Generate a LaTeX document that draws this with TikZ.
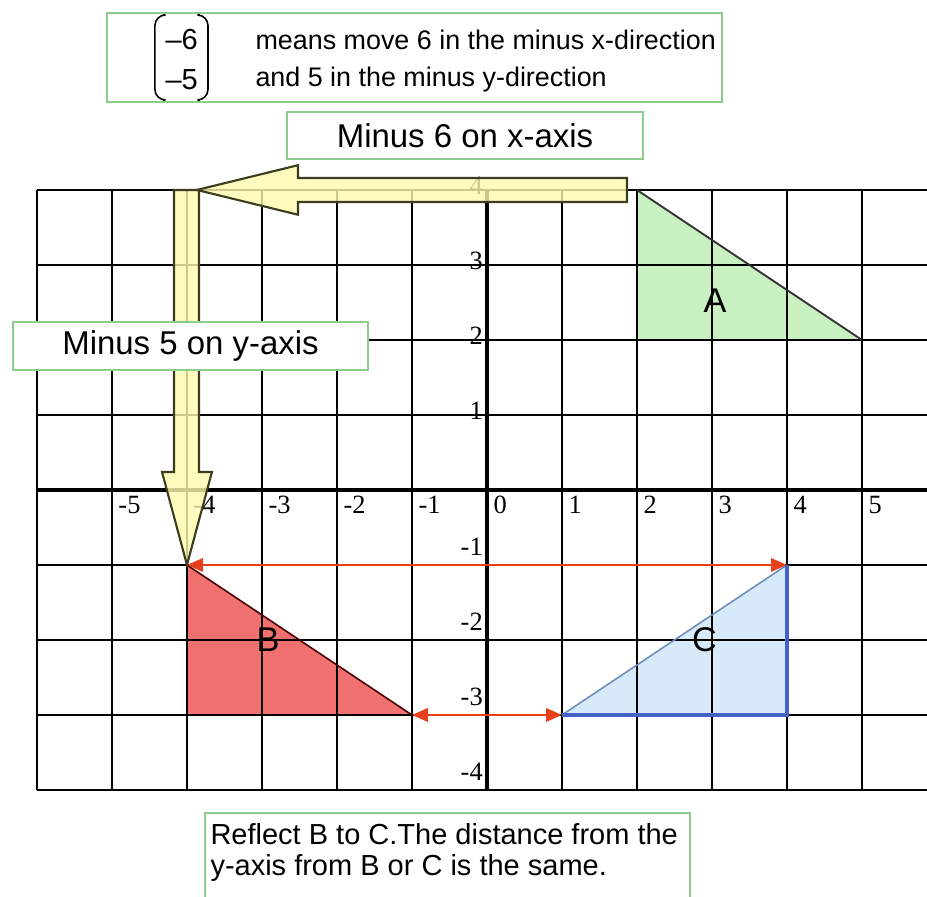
\documentclass[tikz,border=0pt]{standalone}
\usepackage{fontspec}
\setmainfont{Liberation Sans}
\newfontfamily\axfont{Liberation Serif}
\usetikzlibrary{arrows.meta}
\definecolor{boxgreen}{RGB}{140,205,140}
\definecolor{agreen}{RGB}{200,240,192}
\definecolor{bred}{RGB}{240,112,112}
\definecolor{cblue}{RGB}{214,234,250}
\definecolor{cedge}{RGB}{70,100,200}
\definecolor{chyp}{RGB}{110,140,185}
\definecolor{ayellow}{RGB}{255,250,175}
\definecolor{aedge}{RGB}{60,60,30}
\definecolor{redline}{RGB}{232,64,28}
\tikzset{
  gridline/.style={line width=0.75pt, black},
  axisline/.style={line width=1.2pt, black},
  infobox/.style={draw=boxgreen, line width=1pt, fill=white},
  boxtext/.style={inner sep=0pt, anchor=center},
  axlab/.style={inner sep=0pt, font=\axfont\fontsize{10}{12}\selectfont},
  trilab/.style={inner sep=0pt, font=\fontsize{13}{15}\selectfont},
  yarrow/.style={fill=ayellow, fill opacity=0.8, draw=aedge, line width=0.8pt, line join=miter},
  redarrow/.style={draw=redline, line width=1pt, {Triangle[length=6pt,width=5pt]}-{Triangle[length=6pt,width=5pt]}},
}
\begin{document}
\begin{tikzpicture}[x=1cm,y=1cm]
\clip (-6.493,-5.427) rectangle (5.867,6.533);
\fill[white] (-6.493,-5.427) rectangle (5.867,6.533);
% vertices
\coordinate (A1) at (2,4); \coordinate (A2) at (2,2); \coordinate (A3) at (5,2);
\coordinate (B1) at (-4,-1); \coordinate (B2) at (-4,-3); \coordinate (B3) at (-1,-3);
\coordinate (C1) at (1,-3); \coordinate (C2) at (4,-3); \coordinate (C3) at (4,-1);
% fills
\fill[agreen] (A1) -- (A2) -- (A3) -- cycle;
\fill[bred] (B1) -- (B2) -- (B3) -- cycle;
\fill[cblue] (C1) -- (C2) -- (C3) -- cycle;
% grid
\draw[gridline] (-6,-4) grid (5.95,4);
\draw[axisline] (-6,0) -- (5.95,0);
\draw[axisline] (0,-4) -- (0,4);
% triangle outlines
\draw[line width=0.7pt, black!80] (A1) -- (A3);
\draw[line width=0.6pt, black!70!red] (B1) -- (B3);
\draw[line width=0.6pt, chyp] (C1) -- (C3);
\draw[line width=1.3pt, cedge] (C1) -- (C2) -- (C3);
% triangle labels
\node[trilab] (labA) at (3.04,2.53) {A};
\node[trilab] (labB) at (-2.92,-2.0) {B};
\node[trilab] (labC) at (2.9,-2.0) {C};
% axis labels
\foreach \k in {-5,-4,-3,-2,-1,0,1,2,3,4,5}{
  \node[axlab, anchor=west] (xl\k) at (\k+0.08,-0.2) {\k};
}
\foreach \k in {1,2,3,4}{
  \node[axlab, anchor=east] (yl\k) at (-0.05,\k+0.06) {\k};
}
\foreach \k in {-1,-2,-3,-4}{
  \node[axlab, anchor=east] (yl\k) at (-0.05,\k+0.24) {\k};
}
% yellow arrows
\draw[yarrow] (-4.173,4.0) -- (-4.173,0.24) -- (-4.333,0.24) -- (B1) -- (-3.667,0.24) -- (-3.84,0.24) -- (-3.84,4.0) -- cycle;
\draw[yarrow] (1.867,4.16) -- (-2.52,4.16) -- (-2.52,4.33) -- (-3.867,4.0) -- (-2.52,3.67) -- (-2.52,3.84) -- (1.867,3.84) -- cycle;
% red arrows
\draw[redarrow] (B1) -- (C3);
\draw[redarrow] (B3) -- (C1);
% top box
\node[infobox, minimum width=8.2cm, minimum height=1.187cm, inner sep=0pt] (topbox) at (-0.967,5.767) {};
\draw[line width=0.6pt, rounded corners=4pt] (-4.32,6.333) -- (-4.427,6.333) -- (-4.427,5.2) -- (-4.32,5.2);
\draw[line width=0.6pt, rounded corners=4pt] (-3.827,6.333) -- (-3.72,6.333) -- (-3.72,5.2) -- (-3.827,5.2);
\node[boxtext, font=\fontsize{11}{13}\selectfont] (m1) at (-4.07,6.0) {–6};
\node[boxtext, font=\fontsize{11}{13}\selectfont] (m2) at (-4.07,5.467) {–5};
\node[boxtext, anchor=west, font=\fontsize{10.2}{12}\selectfont] (t1) at (-3.093,6.0) {means move 6 in the minus x-direction};
\node[boxtext, anchor=west, font=\fontsize{10.2}{12}\selectfont] (t2) at (-3.093,5.467) {and 5 in the minus y-direction};
% minus 6 box
\node[infobox, minimum width=4.747cm, minimum height=0.627cm, inner sep=0pt, font=\fontsize{12.5}{14}\selectfont] (m6box) at (-0.293,4.727) {Minus 6 on x-axis};
% minus 5 box
\node[infobox, minimum width=4.733cm, minimum height=0.64cm, inner sep=0pt, font=\fontsize{12.5}{14}\selectfont] (m5box) at (-3.953,1.92) {Minus 5 on y-axis};
% bottom box
\node[infobox, minimum width=6.467cm, minimum height=1.3cm, inner sep=0pt] (botbox) at (-0.527,-4.957) {};
\node[boxtext, anchor=west, font=\fontsize{11}{13}\selectfont] (b1) at (-3.693,-4.587) {Reflect B to C.The distance from the};
\node[boxtext, anchor=west, font=\fontsize{11}{13}\selectfont] (b2) at (-3.693,-5.04) {y-axis from B or C is the same.};
\end{tikzpicture}
\end{document}
